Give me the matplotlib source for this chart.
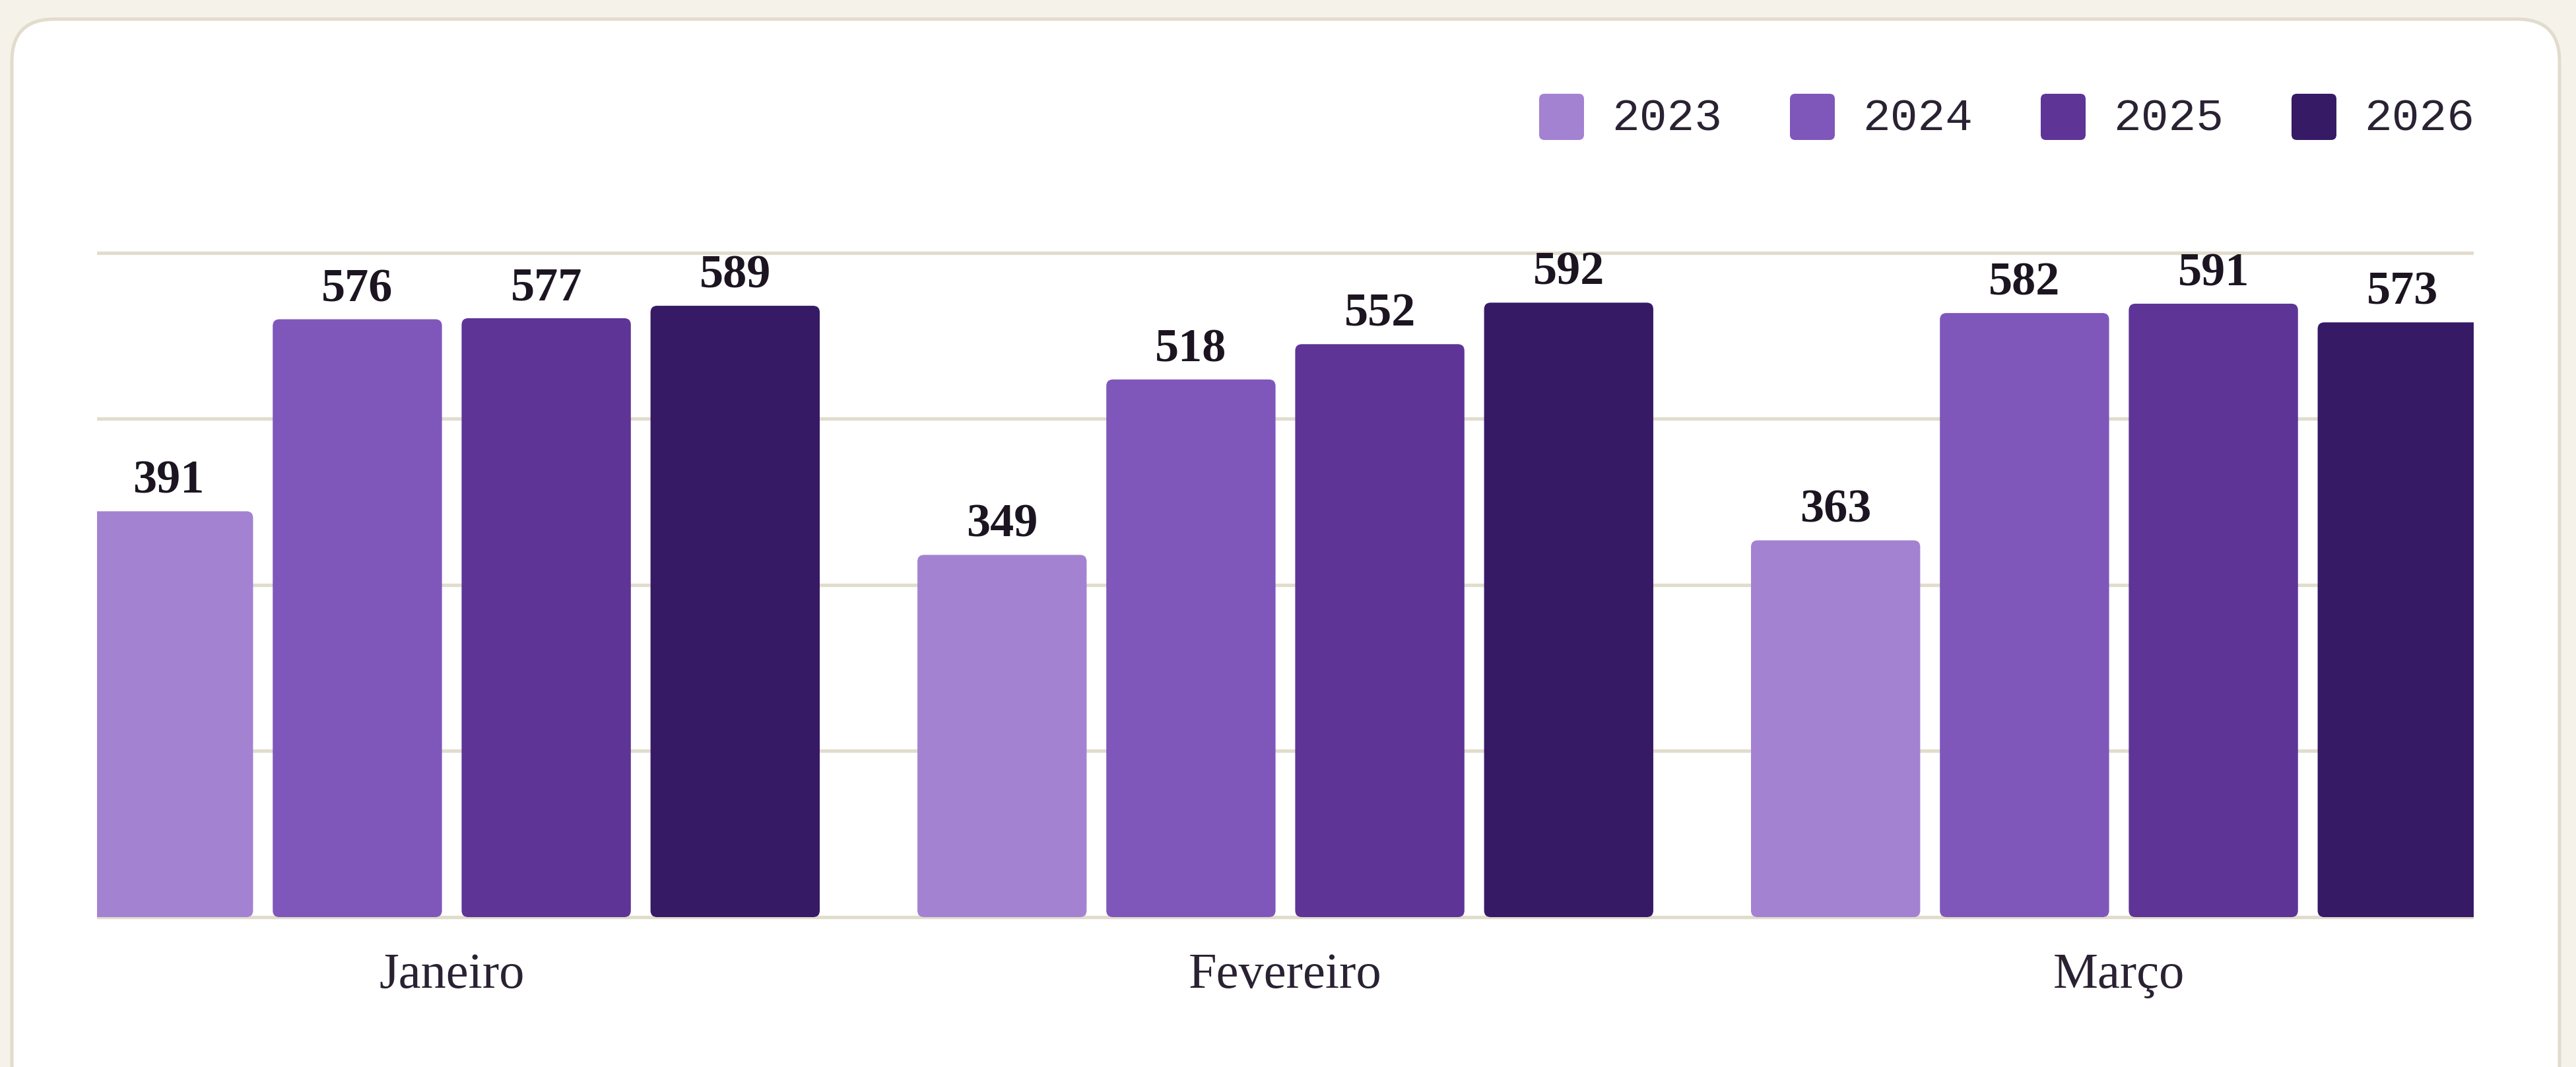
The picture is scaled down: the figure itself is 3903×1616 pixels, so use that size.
import matplotlib
matplotlib.use("Agg")
import matplotlib.pyplot as plt
from matplotlib.patches import FancyBboxPatch
from matplotlib.transforms import IdentityTransform
import numpy as np

# data
months = ["Janeiro", "Fevereiro", "Março"]
years = ["2023", "2024", "2025", "2026"]
v2023 = [391, 349, 363]
v2024 = [576, 518, 582]
v2025 = [577, 552, 591]
v2026 = [589, 592, 573]
series = [v2023, v2024, v2025, v2026]
colors = ["#a482d2", "#7f57bb", "#5e3497", "#361a66"]

W, H, DPI = 3903, 1616, 100
fig = plt.figure(figsize=(W / DPI, H / DPI), dpi=DPI)
fig.patch.set_facecolor("#f5f2ea")

# white card behind the chart
card = FancyBboxPatch((18, -60), 3860, 1647, boxstyle="round,pad=0,rounding_size=64",
                      transform=IdentityTransform(), facecolor="white",
                      edgecolor="#e2dccd", linewidth=3.6, zorder=-5)
fig.patches.append(card)

# axes placed so that 0 sits at y=1389 px and 1 unit = 1.572 px
xlim = (-0.4256, 2.4256)
ylim = (-4, 650)
base_px, ppu = 1389, 1.572
ax_left, ax_right = 147 / W, 3748 / W
ax_bottom = 1 - (base_px - ylim[0] * ppu) / H
ax_top = 1 - (base_px - ylim[1] * ppu) / H
ax = fig.add_axes([ax_left, ax_bottom, ax_right - ax_left, ax_top - ax_bottom])
ax.set_facecolor("none")
ax.set_zorder(2)

x = np.arange(len(months))
step = 0.2266
bw = 0.203
ax.set_xlim(*xlim)
ax.set_ylim(*ylim)

# rounding in pixels -> data units
ax_w_px = (ax_right - ax_left) * W
ax_h_px = (ax_top - ax_bottom) * H
xu = (xlim[1] - xlim[0]) / ax_w_px
yu = (ylim[1] - ylim[0]) / ax_h_px
r_px = 10

for i, vals in enumerate(series):
    off = (i - 1.5) * step
    for xi, v in zip(x, vals):
        left = xi + off - bw / 2
        p = FancyBboxPatch((left, 0), bw, v,
                           boxstyle="round,pad=0,rounding_size=%f" % (r_px * xu),
                           mutation_aspect=yu / xu, facecolor=colors[i],
                           edgecolor="none", zorder=3)
        ax.add_patch(p)
        ax.annotate(str(v), (xi + off, v), xytext=(0, 9), textcoords="offset points",
                    ha="center", va="bottom", fontsize=52, fontweight="bold",
                    family="Liberation Serif", color="#1c1521", zorder=4,
                    annotation_clip=False)

ax.set_yticks([0, 160, 320, 480, 640])
ax.yaxis.grid(True, color="#e2dccd", linewidth=3.8)
ax.set_axisbelow(True)
ax.tick_params(axis="y", left=False, labelleft=False)
ax.set_xticks(x)
ax.set_xticklabels(months, family="Liberation Serif", fontsize=55, color="#2a2233")
ax.tick_params(axis="x", length=0, pad=34)
for s in ax.spines.values():
    s.set_visible(False)

# legend, drawn by hand with rounded swatches
sq = 68
gap_txt = 110
item_step = 380
first_left = 2332
for i, yr in enumerate(years):
    lx = first_left + i * item_step
    cy = H - 178
    sw = FancyBboxPatch((lx, cy - sq / 2), sq, 70, boxstyle="round,pad=0,rounding_size=8",
                        transform=IdentityTransform(), facecolor=colors[i],
                        edgecolor="none", zorder=5)
    fig.patches.append(sw)
    fig.text((lx + gap_txt) / W, (cy + 6) / H, yr, family="Liberation Mono", fontsize=50,
             color="#2a2233", ha="left", va="center_baseline")

fig.savefig("out.png", dpi=DPI, facecolor=fig.get_facecolor())
